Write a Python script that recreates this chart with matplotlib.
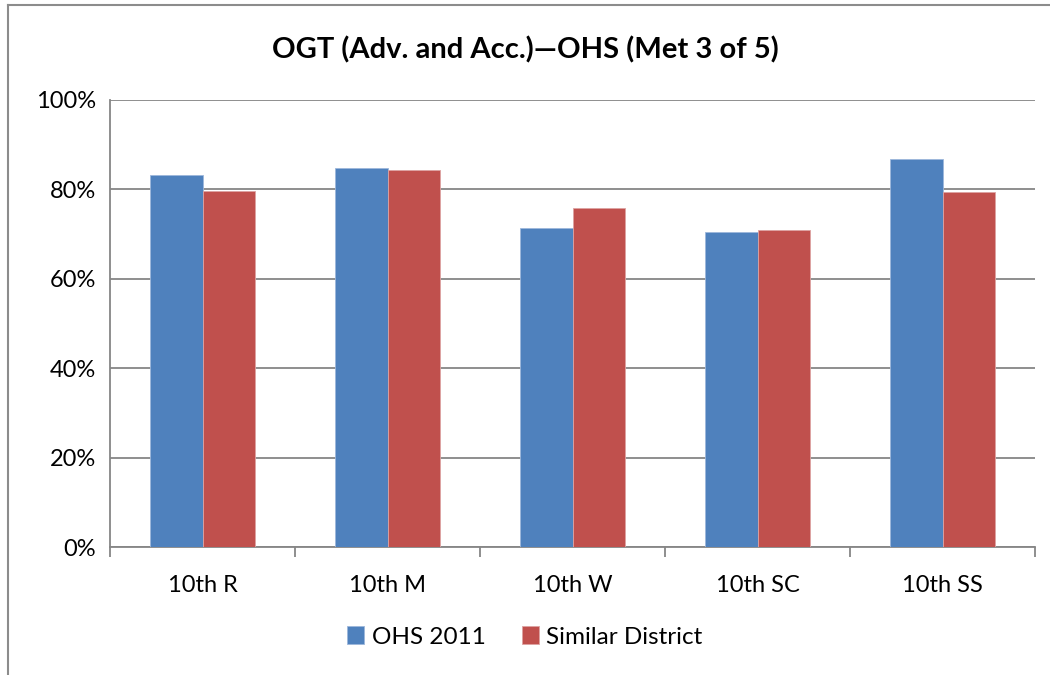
import matplotlib
matplotlib.use("Agg")
import matplotlib.pyplot as plt
import numpy as np
from matplotlib.lines import Line2D
from matplotlib.ticker import FuncFormatter, FixedLocator

categories = ["10th R", "10th M", "10th W", "10th SC", "10th SS"]
series_names = ["OHS 2011", "Similar District"]
ohs_2011 = [83.2, 84.7, 71.4, 70.4, 86.9]
similar_district = [79.6, 84.3, 75.8, 70.9, 79.5]
title = "OGT (Adv. and Acc.)\u2014OHS (Met 3 of 5)"

blue = "#4F81BD"
red = "#C0504D"
grid_c = "#868686"

plt.rcParams['font.family'] = ['Lato', 'DejaVu Sans']

fig = plt.figure(figsize=(10.5, 6.75), dpi=100)
ax = fig.add_axes([110/1050, 1-547/675, (1035-110)/1050, (547-100)/675])

x = np.arange(len(categories))
w = 1/3.5
ax.bar(x - w/2, ohs_2011, w, color=blue, label=series_names[0], edgecolor='#9DB7DB', linewidth=0.6, zorder=3)
ax.bar(x + w/2, similar_district, w, color=red, label=series_names[1], edgecolor='#DDA3A2', linewidth=0.6, zorder=3)

ax.set_xlim(-0.5, len(categories) - 0.5)
ax.set_ylim(0, 100)
ax.yaxis.set_major_locator(FixedLocator([0, 20, 40, 60, 80, 100]))
ax.yaxis.set_major_formatter(FuncFormatter(lambda v, p: f"{int(v)}%"))
ax.grid(axis='y', color=grid_c, linewidth=1.3, zorder=0)
ax.set_axisbelow(True)

for s in ['top', 'right']:
    ax.spines[s].set_visible(False)
ax.spines['left'].set_color(grid_c)
ax.spines['bottom'].set_color(grid_c)
ax.spines['left'].set_linewidth(1.3)
ax.spines['bottom'].set_linewidth(1.3)

ax.set_xticks(x)
ax.set_xticklabels(categories, fontsize=17)
ax.tick_params(axis='x', length=0, pad=20)
ax.tick_params(axis='y', length=0, labelsize=17, pad=10)
ax.set_xticks(np.arange(-0.5, len(categories)), minor=True)
ax.tick_params(axis='x', which='minor', length=7, width=1.3, color=grid_c)

fig.text(0.5, 1 - 50/675, title, ha='center', va='center', fontsize=21, fontweight='bold')

leg = fig.legend(loc='center', bbox_to_anchor=(0.5, 1 - 637/675), ncol=2, frameon=False,
                 fontsize=17.5, handlelength=0.7, handleheight=0.7, handletextpad=0.3, columnspacing=1.5)

# chart border (top and left)
fig.add_artist(Line2D([8/1050, 8/1050], [0, 1 - 5/675], color='#8C8C8C', linewidth=1.5, transform=fig.transFigure))
fig.add_artist(Line2D([8/1050, 1.0], [1 - 5/675, 1 - 5/675], color='#8C8C8C', linewidth=1.5, transform=fig.transFigure))

fig.savefig("out.png", dpi=100)
